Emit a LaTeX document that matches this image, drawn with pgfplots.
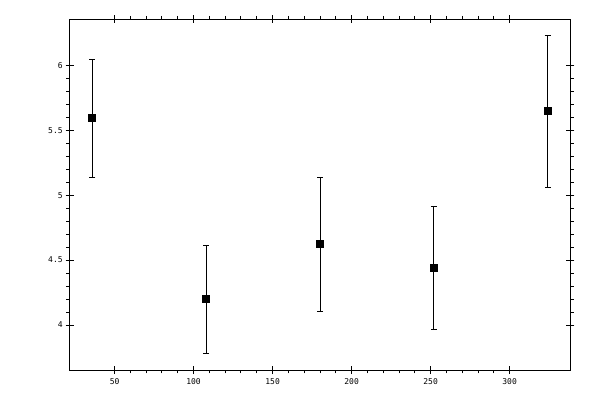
\documentclass[border=0pt]{standalone}
\usepackage{pgfplots}
\pgfplotsset{compat=1.18}
\usepackage{fontspec}
\newfontfamily\tickfont{DejaVu Sans Mono}

\begin{document}
\begin{tikzpicture}[x=1pt,y=1pt]
\path[use as bounding box] (-69.7,-30) rectangle (530.3,370);
\begin{axis}[
    at={(0,0)}, anchor=south west,
    scale only axis,
    width=500.6pt, height=350.7pt,
    xmin=21.6, xmax=338.4,
    ymin=3.654, ymax=6.354,
    xtick={50,100,...,300},
    ytick={4,4.5,...,6},
    minor x tick num=4,
    minor y tick num=4,
    tick align=outside,
    major tick length=4pt,
    minor tick length=3.3pt,
    extra x ticks={50,100,...,300},
    extra y ticks={4,4.5,...,6},
    extra x tick labels={},
    extra y tick labels={},
    extra tick style={tick align=inside, major tick length=4pt},
    axis line style={line width=1pt},
    every tick/.style={black, line width=1pt},
    tick label style={font=\tickfont\fontsize{8}{9}\selectfont},
    /pgf/number format/assume math mode=true,
    xticklabel style={yshift=-1pt},
    yticklabel style={xshift=0.5pt},
]
\addplot[
    black, line width=1pt, only marks,
    mark=square*, mark size=3.5pt,
    error bars/.cd,
    y dir=both, y explicit,
    error bar style={line width=1pt},
    error mark options={rotate=90, mark size=3pt, line width=1pt},
] table[x=x, y=y, y error=e] {
x    y       e
36   5.592   0.454
108  4.1975  0.4155
180  4.6205  0.5155
252  4.440   0.473
324  5.6475  0.5855
};
\end{axis}
\end{tikzpicture}
\end{document}
